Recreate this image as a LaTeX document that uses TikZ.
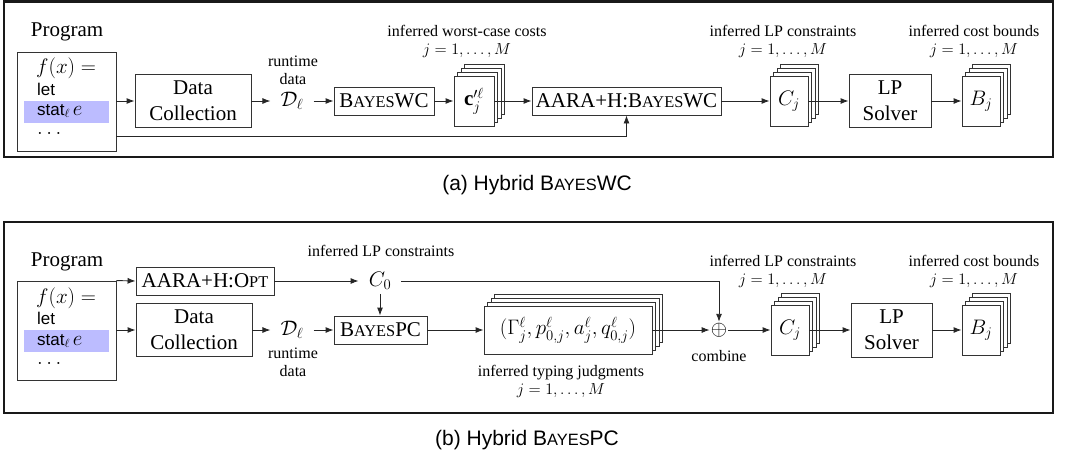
\RequirePackage{fix-cm}
\documentclass[tikz,border=0pt]{standalone}
\usepackage{fontspec}
\setmainfont{Liberation Serif}
\setsansfont{Liberation Sans}
\usepackage{graphicx}
\usetikzlibrary{arrows.meta}
\definecolor{hl}{RGB}{188,188,255}
\newcommand\smc[1]{\scalebox{0.78}{#1}}
\newcommand\bodyfont{\fontsize{21}{26}\selectfont}
\newcommand\lblfont{\fontsize{16}{18}\selectfont}
\newcommand\kwfont{\sffamily\fontsize{17}{20}\selectfont}
\newcommand\capfont{\sffamily\fontsize{21}{24}\selectfont}
\tikzset{
  box/.style={draw=black!80, line width=0.9pt, fill=white, inner sep=0pt, font=\bodyfont, align=center},
  card/.style={draw=black!80, line width=0.9pt, fill=white, inner sep=0pt, font=\bodyfont},
  lbl/.style={font=\lblfont, align=center, inner sep=0pt},
  txt/.style={font=\bodyfont, inner sep=0pt, anchor=west},
  kw/.style={font=\kwfont, inner sep=0pt, anchor=west},
  mathnode/.style={font=\bodyfont, inner xsep=10pt, inner ysep=4pt},
  arr/.style={-{Latex[length=8pt,width=6pt]}, line width=0.9pt, draw=black!85},
  frame/.style={line width=2.5pt, draw=black!90},
}
\newcommand\cardstack[6]{%
  \foreach \i in {3,2,1}{\node[card, minimum width=#4pt, minimum height=#5pt] (#1-b\i) at ({#2+3.5*\i},{#3-4*\i}) {};}
  \node[card, minimum width=#4pt, minimum height=#5pt] (#1) at (#2,#3) {#6};}
\begin{document}
\begin{tikzpicture}[x=1pt,y=-1pt]
\useasboundingbox (0,0) rectangle (1067,464);
% panel frames
\draw[frame] (4,1.5) rectangle (1053,157);
\draw[frame] (4,222) rectangle (1053,413);

% ===== Panel (a) =====
\node[font=\bodyfont, inner sep=0pt] (proglbl) at (67,32) {Program};
\node[box, minimum width=99pt, minimum height=99pt] (prog) at (66.5,101.5) {};
\fill[hl] (24,101) rectangle (109,123);
\node[txt] (pf) at (36,68) {$f(x) =$};
\node[kw] (plet) at (37,89) {let};
\node[kw] (pstat) at (37,111) {stat$_\ell$\,\rmfamily\bodyfont$e$};
\node[txt] (pdots) at (37,133) {$\dots$};

\node[box, minimum width=116pt, minimum height=53pt] (dc) at (193,101) {Data\\Collection};
\node[mathnode] (D) at (292,101) {$\mathcal{D}_\ell$};
\node[lbl] (rt) at (293,70) {runtime\\data};
\node[box, minimum width=100pt, minimum height=28pt] (bwc) at (384,101) {B\smc{AYES}WC};
\cardstack{cs}{474}{101}{40}{50}{$\mathbf{c}'^{\ell}_j$}
\node[lbl] (lcs) at (467,41) {inferred worst-case costs\\$j = 1, \ldots, M$};
\node[box, minimum width=189pt, minimum height=28pt] (aara) at (626.5,101) {AARA+H:B\smc{AYES}WC};
\cardstack{cj}{789}{101}{38}{50}{$C_j$}
\node[lbl] (lcj) at (783,41) {inferred LP constraints\\$j = 1, \ldots, M$};
\node[box, minimum width=82pt, minimum height=53pt] (lp) at (890,101) {LP\\Solver};
\cardstack{bj}{981}{101}{38}{50}{$B_j$}
\node[lbl] (lbj) at (974,41) {inferred cost bounds\\$j = 1, \ldots, M$};

\draw[arr] (prog.east |- dc.west) -- (dc.west);
\draw[arr] (dc.east) -- (D.west);
\draw[arr] (D.east) -- (bwc.west);
\draw[arr] (bwc.east) -- (cs.west);
\draw[arr] (cs.east) -- (aara.west);
\draw[arr] (aara.east) -- (cj.west);
\draw[arr] (cj.east) -- (lp.west);
\draw[arr] (lp.east) -- (bj.west);
\coordinate (t1) at (626.5,136);
\draw[arr] (prog.east |- t1) -- (t1) -- (aara.south);

\node[font=\capfont, inner sep=0pt] (capa) at (537,185) {(a) Hybrid B\smc{AYES}WC};

% ===== Panel (b) =====
\node[font=\bodyfont, inner sep=0pt] (proglbl2) at (67,262) {Program};
\node[box, minimum width=99pt, minimum height=99pt] (prog2) at (66.5,330.5) {};
\fill[hl] (24,330) rectangle (109,352);
\node[txt] (pf2) at (36,298) {$f(x) =$};
\node[kw] (plet2) at (37,318) {let};
\node[kw] (pstat2) at (37,341) {stat$_\ell$\,\rmfamily\bodyfont$e$};
\node[txt] (pdots2) at (37,363) {$\dots$};

\node[box, minimum width=138pt, minimum height=28pt] (opt) at (205,281) {AARA+H:O\smc{PT}};
\node[mathnode] (C0) at (380,281) {$C_0$};
\node[lbl] (lc0) at (381,251) {inferred LP constraints};
\node[box, minimum width=116pt, minimum height=53pt] (dc2) at (194,330) {Data\\Collection};
\node[mathnode] (D2) at (292,330) {$\mathcal{D}_\ell$};
\node[lbl] (rt2) at (293,362) {runtime\\data};
\node[box, minimum width=93pt, minimum height=28pt] (bpc) at (380.5,330) {B\smc{AYES}PC};
\cardstack{tj}{568}{330}{168}{48}{$(\Gamma^\ell_j, p^\ell_{0,j}, a^\ell_j, q^\ell_{0,j})$}
\node[lbl] (ltj) at (561,381) {inferred typing judgments\\$j = 1, \ldots, M$};
\node[font=\bodyfont, inner sep=1pt] (plus) at (719,330) {$\oplus$};
\node[lbl] (comb) at (719,356) {combine};
\cardstack{cj2}{790}{330}{38}{50}{$C_j$}
\node[lbl] (lcj2) at (783,271) {inferred LP constraints\\$j = 1, \ldots, M$};
\node[box, minimum width=81pt, minimum height=54pt] (lp2) at (891.5,330) {LP\\Solver};
\cardstack{bj2}{981}{330}{38}{50}{$B_j$}
\node[lbl] (lbj2) at (974,271) {inferred cost bounds\\$j = 1, \ldots, M$};

\draw[arr] (prog2.north east) -- (opt.west);
\draw[arr] (prog2.east |- dc2.west) -- (dc2.west);
\draw[arr] (opt.east) -- (C0.west);
\draw[arr] (C0.south) -- (C0.south |- bpc.north);
\draw[arr] (dc2.east) -- (D2.west);
\draw[arr] (D2.east) -- (bpc.west);
\draw[arr] (bpc.east) -- (tj.west);
\draw[arr] (tj.east) -- (plus.west);
\draw[arr] (C0.east) -- (C0.east -| plus.north) -- (plus.north);
\draw[arr] (plus.east) -- (cj2.west);
\draw[arr] (cj2.east) -- (lp2.west);
\draw[arr] (lp2.east) -- (bj2.west);

\node[font=\capfont, inner sep=0pt] (capb) at (527,440) {(b) Hybrid B\smc{AYES}PC};
\end{tikzpicture}
\end{document}
